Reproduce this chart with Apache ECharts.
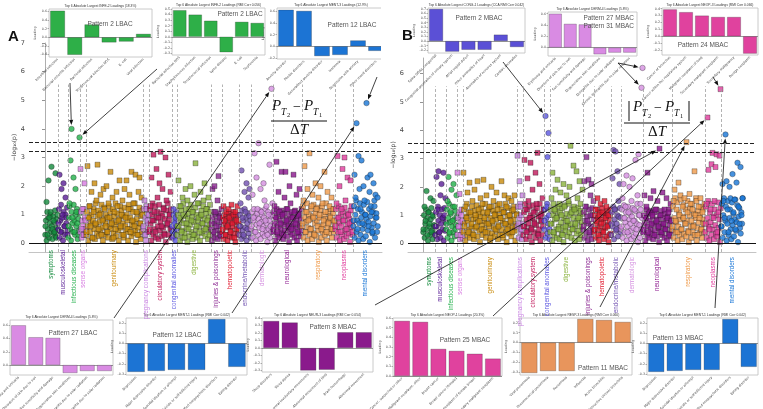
<!DOCTYPE html>
<html>
<head>
<meta charset="utf-8">
<script src="https://cdn.jsdelivr.net/npm/echarts@6/dist/echarts.min.js"></script>
<style>
html,body{margin:0;padding:0;background:#fff}
#main{width:763px;height:409px}
</style>
</head>
<body>
<div id="main"></div>
<script>
// phecode categories, same order in both panels
var categories = ['symptoms','musculoskeletal','infectious diseases','sense organs','genitourinary','pregnancy complications','circulatory system','congenital anomalies','digestive','injuries & poisonings','hematopoietic','endocrine/metabolic','dermatologic','neurological','respiratory','neoplasms','mental disorders']
var catColors = ['#138a3c','#5a1e96','#22b04a','#d679e0','#c88a0a','#c67fe0','#c0185a','#5a55e0','#8ab23c','#8a2590','#e0182e','#7050b0','#d48fe0','#8a158c','#ef9a4a','#e03c9c','#1875d6']
var catSymbols = ['circle','circle','circle','rect','rect','rect','rect','circle','rect','rect','rect','circle','circle','rect','rect','rect','circle']

// panel A  -log10(p): phenotypes that stand out (one per pixel column of the category)
var aSymptoms = [0.6,1.45,0.3,2.2,0.9,1.1,2.68,0.5,0.8,0.4,2.45,0.2,1.0]
var aMusculoskeletal = [0.7,2.4,0.4,1.9,1.0,2.1,0.6,1.6,0.9,0.3]
var aInfectious = [0.6,1.4,2.9,4.0,0.9,2.3,0.4,1.9,1.1,0.7,0.3,3.7]
var aSense = [2.6,0.5,1.2,0.3,2.1,0.8]
var aGenitourinary = [0.4,2.7,0.9,1.3,0.6,1.8,0.2,1.1,2.1,0.7,1.5,2.75,0.5,1.0,1.7,0.3,0.8,1.9,1.2,0.6,2.0,0.4,1.4,0.9,2.5,0.7,1.6,0.2,1.1,0.5,1.8,1.3,0.8,2.2,0.6,1.0,1.5,0.3,1.9,0.9,2.2,0.5,1.2,1.7,0.4,2.5,0.8,1.4,0.6,2.4,1.1,0.3,1.8,2.3,0.7,1.6,1.0]
var aPregnancy = [0.6,1.5,0.3,1.2,0.8,1.0]
var aCirculatory = [0.5,1.3,2.3,0.8,3.1,1.1,0.4,2.6,1.6,0.9,2.1,3.2,0.6,1.9,1.2,0.3,3.0,1.5,0.7,2.4,1.0,1.8,0.5]
var aCongenital = [0.4,1.2,0.7,0.9,0.3]
var aDigestive = [0.6,2.2,0.9,1.3,0.4,1.6,1.0,0.2,1.9,0.7,1.5,0.5,1.2,2.0,0.8,1.1,0.3,1.7,2.8,0.6,1.4,0.9,0.4,1.8,1.0,0.7,1.5,2.1,0.5,1.2,0.8,1.6,0.3,1.1]
var aInjuries = [0.7,1.9,0.4,2.0,1.1,0.6,1.5,2.35,0.9,0.3,1.2]
var aHematopoietic = [0.5,1.3,0.8,0.3,1.1,0.6,1.2,0.9,0.4,1.35,0.7,1.0,0.2,1.1,0.8,1.3,0.5]
var aEndocrine = [0.6,1.4,2.55,0.9,0.3,1.8,1.1,2.1,0.5,1.6,1.9,0.8]
var aDermatologic = [0.6,1.7,0.9,3.15,0.4,2.3,1.2,3.5,0.7,1.9,1.1,0.5,2.1,1.5,0.8,1.3,0.3,1.0,2.75,0.6,5.4,1.4]
var aNeurological = [0.5,1.3,0.9,2.85,0.4,1.8,1.1,0.7,2.5,1.0,0.3,1.6,2.5,0.8,1.2,0.6,2.0,1.4,0.5,0.9,2.4,1.1,0.7,1.7,0.4,1.0,1.9,0.6,1.2]
var aRespiratory = [0.7,1.5,2.7,0.4,1.1,1.9,0.8,3.15,0.5,1.3,1.7,0.9,0.3,2.1,1.2,0.6,1.6,1.0,2.0,0.5,1.4,0.8,2.5,1.1,0.4,1.8,0.7,1.3,0.9,1.6,0.5,1.2,0.8]
var aNeoplasms = [0.6,1.4,3.05,0.9,2.0,0.4,1.2,2.6,0.8,3.0,1.5,0.5,2.3,1.0,0.7,2.2,1.3,0.4]
var aMental = [0.8,2.4,1.6,4.2,0.5,3.05,1.9,1.2,2.9,0.7,2.0,1.5,1.0,4.9,2.3,0.6,1.8,2.4,1.1,0.4,2.1,1.3,1.7,0.9,1.6]

// panel A  -log10(p): the dense cloud of remaining phenotypes
var aSymptomsBase = [.3,.8,.1,1.1,.5,.9,.2,.7,1.0,.4,.6,.15,.95,.35,.75,1.15,.25,.55,.85,.45]
var aMusculoskeletalBase = [.5,1.2,.2,.8,1.35,.4,.9,.1,1.1,.6,.3,1.0,.7,1.25,.45]
var aInfectiousBase = [.2,.9,1.3,.5,.1,1.1,.7,.4,1.35,.8,.3,1.0,.6,1.2,.15,.85,.45,1.05]
var aSenseBase = [.4,1.1,.2,.8,.6,1.2,.3,.9,.5]
var aGenitourinaryBase = [.3,1.1,.6,.1,.9,1.3,.4,.7,1.0,.2,.8,1.2,.5,.15,1.4,.65,.35,.95,1.15,.25,.75,.45,1.05,1.35,.55,.1,.85,1.25,.3,.7,1.0,.4,.9,.2,1.3,.6,1.1,.5,.8,.15,1.2,.35,.95,.65,1.4,.25,.75,1.05,.45,.1,.85,1.3,.55,1.15,.3,.7,.95,.2,1.25,.6,.4,1.0,.8,.1,1.35,.5,.9,1.2,.25,.65,1.1,.35,.75,1.4,.45,.05,.85,1.05,.55,.3,1.25,.7,.15,.95,.4,1.15]
var aPregnancyBase = [.5,1.2,.3,.9,.1,1.3,.7,.4,1.0]
var aCirculatoryBase = [.4,1.2,.7,.1,1.0,1.4,.3,.8,.5,1.3,.2,.9,1.1,.6,.15,1.35,.45,.75,1.05,.25,.95,.55,1.25,.35,.85,.05,1.15,.65,1.4,.3,.8,1.0,.5,1.2,.2]
var aCongenitalBase = [.6,.2,1.0,.4,.8,.1,1.1,.5]
var aDigestiveBase = [.3,1.0,.6,1.3,.1,.8,1.15,.45,.2,1.4,.7,.35,.95,1.2,.55,.05,.85,1.05,.25,.65,1.35,.4,.9,.15,1.1,.75,.3,1.25,.5,1.0,.2,.8,1.4,.6,.1,.95,1.15,.35,.7,1.3,.45,.85,.25,1.05,.55,1.2,.15,.9,.65,1.35,.4]
var aInjuriesBase = [.5,.1,.9,.3,1.1,.7,.2,1.0,.45,.8,.15,1.05,.6,.35,.95,.25,.75]
var aHematopoieticBase = [.4,.9,.15,.7,1.0,.3,.55,.85,.1,.65,1.05,.25,.8,.45,.95,.2,.6,1.1,.35,.75,.05,.9,.5,1.0,.3,.7]
var aEndocrineBase = [.3,1.0,.6,.15,1.15,.45,.8,.25,1.2,.55,.9,.1,.7,1.05,.35,.95,.5,.2]
var aDermatologicBase = [.5,1.1,.2,.8,1.2,.4,.95,.1,.65,1.05,.3,.85,.55,1.15,.15,.75,1.0,.35,.6,.9,.25,1.2,.45,.7,.05,1.1,.5,.8,.2,.95,.4,1.0,.6]
var aNeurologicalBase = [.4,1.1,.7,.1,.9,1.2,.3,.6,1.0,.2,.8,.5,1.15,.35,.95,.15,.65,1.05,.45,.75,1.2,.25,.85,.55,.05,1.0,.4,.7,1.1,.3,.9,.6,.2,1.15,.5,.8,.1,.95,.35,1.05,.65,.25,.85,.45]
var aRespiratoryBase = [.6,1.3,.2,.9,1.1,.4,.75,1.4,.1,.55,1.0,.3,.85,1.2,.5,.15,.95,1.35,.35,.7,1.05,.25,.8,1.25,.45,.05,.9,1.15,.6,.2,1.3,.4,.65,1.0,.3,.85,1.4,.1,.55,1.1,.75,.35,.95,1.2,.5,.2,.8,1.05,.4,.7]
var aNeoplasmsBase = [.5,1.2,.2,.9,.4,1.3,.7,.1,1.0,.6,.3,1.1,.8,.15,1.25,.45,.95,.25,.65,1.05,.35,.85,.05,1.15,.55,.75,.3]
var aMentalBase = [.6,1.3,.2,1.0,1.5,.4,.8,1.2,.1,.7,1.4,.3,.9,1.1,.5,.15,1.35,.65,1.0,.25,.85,1.45,.45,.75,1.2,.05,.95,1.3,.55,.35,1.1,.7,1.5,.2,.9,1.05,.4,.6]

// panel B  -log10(p): phenotypes that stand out
var bSymptoms = [0.5,1.3,0.8,1.85,0.3,1.1,0.7,1.6,0.4,1.0,1.5,0.6]
var bMusculoskeletal = [0.6,2.35,1.2,2.55,0.4,1.7,2.1,0.9,2.5,1.0,1.6]
var bInfectious = [0.7,1.5,2.35,0.4,1.1,1.9,0.8,2.1,1.3,0.5,1.7]
var bSense = [2.5,0.6,1.75,0.3,1.2,0.8]
var bGenitourinary = [2.5,0.6,1.3,0.9,1.8,0.4,2.15,1.1,0.7,1.5,0.3,1.9,1.0,0.6,2.2,1.2,0.8,1.6,0.5,1.4,2.25,0.9,0.4,1.7,1.1,0.7,1.3,0.2,2.0,0.8,1.5,1.0,0.5,1.8,1.2,0.6,1.4,0.9,2.2,0.3,1.1,1.7,0.7,1.3,0.5,1.6,1.0,0.8,1.5,0.4,1.2,1.7,0.6,1.0]
var bPregnancy = [3.1,0.7,2.2,1.3,0.5,1.7]
var bCirculatory = [0.6,2.95,1.2,0.4,2.3,1.5,0.9,2.85,0.5,1.9,1.1,0.7,2.5,1.4,3.2,0.3,2.1,1.0,0.8,1.6,1.2]
var bCongenital = [0.8,4.5,1.3,3.05,3.9,0.5]
var bDigestive = [0.7,1.6,2.5,0.4,1.2,1.9,0.9,2.25,0.5,1.4,1.8,1.0,0.3,2.1,1.3,0.6,1.7,0.8,1.5,2.0,3.45,1.1,0.5,2.75,1.2,0.7,2.55,1.6,0.9,2.2,1.4,0.6,1.9]
var bInjuries = [0.6,2.2,1.3,3.05,0.8,2.25,0.4,1.7,2.1,1.0,1.5]
var bHematopoietic = [0.5,1.2,0.8,1.6,0.3,1.0,1.4,0.7,1.1,0.4,1.5,0.9,1.3,0.6,1.0,0.3,1.2]
var bEndocrine = [0.7,2.3,3.3,1.2,3.25,0.5,2.55,1.5,2.1,0.9]
var bDermatologic = [0.6,1.6,2.1,0.9,1.3,2.4,0.4,1.1,2.0,0.7,1.5,2.3,0.8,1.2,2.95,0.5,1.7,3.15,1.0,1.4,5.5,6.2]
var bNeurological = [0.5,1.7,0.9,1.3,2.5,0.4,1.1,1.6,0.7,1.0,1.85,0.3,1.2,0.8,1.5,0.6,3.35,1.0,0.4,1.8,0.7,1.2,0.5,1.6,0.9,1.1,0.3,1.4,0.8]
var bRespiratory = [0.6,1.5,1.9,0.8,1.2,0.4,2.15,1.0,1.7,0.5,1.3,0.9,1.6,0.7,3.58,1.1,0.4,1.75,1.4,0.8,1.2,0.6,2.55,1.0,1.5,0.3,1.3,0.9,1.6,0.5,1.1,0.7,1.4]
var bNeoplasms = [0.7,1.4,4.45,2.6,0.5,1.2,2.8,3.2,0.9,1.5,2.7,3.15,0.4,1.1,3.1,5.45]
var bMental = [0.6,2.1,1.5,0.9,3.85,2.2,1.2,0.4,2.0,1.6,0.8,2.45,1.1,1.55,0.5,2.15,2.85,1.3,0.7,2.7,1.0,1.6]

// panel B  -log10(p): dense cloud
var bSymptomsBase = [.4,1.0,.2,.7,1.2,.5,.9,.1,1.1,.6,.3,.85,1.25,.45,.15,.95,.65,.35]
var bMusculoskeletalBase = [.3,1.1,.6,.15,1.3,.8,.4,1.0,.2,.7,1.2,.5,.9,.1,1.25,.45,.75]
var bInfectiousBase = [.5,1.2,.2,.9,1.4,.35,.75,1.05,.1,.6,1.3,.4,.85,.25,1.15,.65,.95]
var bSenseBase = [.3,.9,.6,1.1,.15,.75,1.0,.45,.2]
var bGenitourinaryBase = [.4,1.2,.7,.1,.95,1.4,.3,.8,1.1,.5,.2,1.0,.6,1.3,.35,.85,.15,1.15,.55,.9,1.35,.25,.75,1.05,.45,.05,.95,1.25,.65,.3,1.1,.5,.8,1.4,.2,.7,1.0,.4,1.2,.6,.1,.9,1.3,.35,.75,1.15,.55,.25,1.05,.85,.45,1.35,.15,.65,1.0,.3,.9,1.2,.5,.8,.2,1.1,.7,1.4,.4,.05,.95,1.25,.6,.35,1.0,.75,.25,1.15,.55,.85,1.3,.45,.1,.65,1.05]
var bPregnancyBase = [.6,1.3,.2,.9,1.4,.4,1.0,.15,.7]
var bCirculatoryBase = [.3,1.1,.6,1.4,.15,.85,1.2,.45,.7,1.3,.25,1.0,.55,.05,.9,1.35,.4,.75,1.15,.2,.65,1.25,.35,.95,.5,1.4,.1,.8,1.05,.3,.6,1.2]
var bCongenitalBase = [.5,1.2,.2,.9,1.4,.35,.7,1.0,.15]
var bDigestiveBase = [.4,1.2,.7,.1,1.0,1.4,.3,.85,1.15,.5,.2,.95,1.3,.6,.15,1.1,.75,.35,1.25,.55,.05,.9,1.35,.45,.8,1.05,.25,.65,1.4,.4,1.0,.7,.2,1.2,.5,.9,1.3,.1,.6,1.1,.35,.8,1.25,.45,.15,.95,1.15,.3,.75,1.05]
var bInjuriesBase = [.5,1.1,.2,.8,1.3,.4,.95,.1,.7,1.2,.3,1.0,.6,.15,1.25,.45,.85]
var bHematopoieticBase = [.4,1.0,.2,.7,1.2,.5,.9,.1,1.1,.6,.3,.85,1.25,.45,.75,.15,1.05,.55,.95,.25,1.15,.65,.05,.8,1.0,.35]
var bEndocrineBase = [.3,1.1,.6,1.3,.15,.85,1.2,.45,.7,1.0,.25,.95,.55,1.25,.4]
var bDermatologicBase = [.5,1.2,.2,.9,1.35,.4,.75,1.1,.1,.6,1.3,.3,.85,1.05,.45,.15,.95,1.25,.55,.25,.8,1.15,.35,.7,1.4,.05,1.0,.65,.2,1.2,.5,.9,.4]
var bNeurologicalBase = [.4,1.0,.7,.1,.9,1.2,.3,.6,1.05,.2,.8,.5,1.15,.35,.95,.15,.65,1.1,.45,.75,1.2,.25,.85,.55,.05,1.0,.4,.7,1.15,.3,.9,.6,.2,1.05,.5,.8,.1,.95,.35,1.2,.65,.25,.85,.45]
var bRespiratoryBase = [.5,1.3,.2,.9,1.6,.4,.75,1.45,.1,.6,1.1,.3,.85,1.55,.5,.15,.95,1.35,.35,.7,1.2,.25,.8,1.5,.45,.05,1.0,1.25,.6,.2,1.4,.4,.65,1.05,.3,.9,1.6,.1,.55,1.15,.75,.35,1.0,1.3,.5,.2,.85,1.2,.4,.7]
var bNeoplasmsBase = [.4,1.3,.2,.9,1.5,.6,.1,1.1,.75,.3,1.4,.5,.95,.15,1.2,.65,.35,1.0,.25,1.45,.55,.85,.05,1.25]
var bMentalBase = [.6,1.4,.2,1.0,1.6,.4,.8,1.3,.1,.7,1.5,.3,.9,1.2,.5,.15,1.45,.65,1.05,.25,.85,1.55,.45,.75,1.35,.05,.95,1.25,.55,.35,1.1,.7,1.6]

var thresholds = [3.53, 3.23]

// inset loadings
var infe2Share = [0.62,-0.41,0.3,-0.12,-0.1,0.08]
var infe2ShareLabels = ['Intestinal infection','Bacterial enteritis infection','Bacterial infection','Streptococcal infection NOS','E. coli','Viral infection']
var infe2Rmi = [0.48,0.40,0.29,-0.28,0.27,0.25]
var infe2RmiLabels = ['Bacterial infection NOS','Staphylococcus infection','Streptococcal infection','Lyme disease','E. coli','Septicemia']
var ment3Share = [0.63,0.61,-0.17,-0.15,0.1,-0.08]
var ment3Labels = ['Anxiety disorder','Phobic disorders','Generalized anxiety disorder','Insomnia','Depression with anxiety','Other mood disorders']
var cong1Cca = [0.70,-0.23,-0.19,-0.19,0.14,-0.13]
var cong1Labels = ['Spina bifida, congenital','Congenital anomalies of urinary system','Atrial septal defect','Other anomalies of heart','Anomalies of nervous system','Cardiac anomalies']
var derm4Share = [0.6,0.42,0.41,-0.12,-0.09,-0.09]
var derm4Labels = ['Erythema and urticaria','Disorders of skin due to sun','Sun sensitivity and damage','Degenerative skin conditions','Dermatitis due to solar radiation','Chronic dermatitis due to solar radiation']
var neop3Rmi = [0.39,0.35,0.30,0.28,0.28,-0.25]
var neop3Labels = ['Cancer of bronchus','Cancer within the respiratory system','Malignant neoplasm of lung','Secondary malignant neoplasm','Secondary malignancy','Benign neoplasm']
var ment1Rmi = [-0.28,-0.27,-0.26,-0.26,0.24,-0.23]
var ment1Labels = ['Depression','Major depressive disorder','Suicidal ideation or attempt','Suicide or self-inflicted injury','Other specified nonpsychotic disorders','Eating disorder']
var neur3Rmi = [0.36,0.34,-0.30,-0.29,0.21,0.21]
var neur3Labels = ['Sleep disorders','Sleep apnea','Abnormal involuntary movements','Abnormal movement of limb','Brain hemorrhage','Abnormal movement']
var neop1Share = [0.57,0.56,0.28,0.26,0.23,0.18]
var neop1Labels = ['Cancer, suspected or other','Malignant neoplasm, other','Breast cancer','Breast cancer [female]','Malignant neoplasm of female breast','Secondary malignant neoplasm']
var resp3Rmi = [-0.31,-0.29,-0.29,0.24,0.23,0.21]
var resp3Labels = ['Viral pneumonia','Pneumococcal pneumonia','Pneumonia','Influenza','Acute bronchitis','Obstructive chronic bronchitis']

var green = '#2eaf48', blue = '#1c74d4', slate = '#5b50d6', orchid = '#d98be3', pink = '#e0429e', plum = '#8a1a8c', sand = '#e8955c'

var panels = [
  {values:[aSymptoms,aMusculoskeletal,aInfectious,aSense,aGenitourinary,aPregnancy,aCirculatory,aCongenital,aDigestive,aInjuries,aHematopoietic,aEndocrine,aDermatologic,aNeurological,aRespiratory,aNeoplasms,aMental],
   base:[aSymptomsBase,aMusculoskeletalBase,aInfectiousBase,aSenseBase,aGenitourinaryBase,aPregnancyBase,aCirculatoryBase,aCongenitalBase,aDigestiveBase,aInjuriesBase,aHematopoieticBase,aEndocrineBase,aDermatologicBase,aNeurologicalBase,aRespiratoryBase,aNeoplasmsBase,aMentalBase],
   box:[29,43,353,209], xMin:-16, xMax:337, yMax:7, yTicks:[0,1,2,3,4,5,6,7], labelGap:-2},
  {values:[bSymptoms,bMusculoskeletal,bInfectious,bSense,bGenitourinary,bPregnancy,bCirculatory,bCongenital,bDigestive,bInjuries,bHematopoietic,bEndocrine,bDermatologic,bNeurological,bRespiratory,bNeoplasms,bMental],
   base:[bSymptomsBase,bMusculoskeletalBase,bInfectiousBase,bSenseBase,bGenitourinaryBase,bPregnancyBase,bCirculatoryBase,bCongenitalBase,bDigestiveBase,bInjuriesBase,bHematopoieticBase,bEndocrineBase,bDermatologicBase,bNeurologicalBase,bRespiratoryBase,bNeoplasmsBase,bMentalBase],
   box:[408,58,348,194], xMin:-15, xMax:333, yMax:6.55, yTicks:[0,1,2,3,4,5,6], labelGap:5}
]

var insets = [
  {box:[49,9,103,48], values:infe2Share, labels:infe2ShareLabels, ticks:[-0.4,-0.2,0,0.2,0.4,0.6], min:-0.46, max:0.66, color:green,
   title:'Top 6 Absolute Largest INFE-2 Loadings (18.3%)', tags:['Pattern 2 LBAC'], tagAt:[110,24,'center']},
  {box:[172,8,93,47], values:infe2Rmi, labels:infe2RmiLabels, ticks:[-0.3,-0.2,-0.1,0,0.1,0.2,0.3,0.4,0.5], min:-0.33, max:0.52, color:green,
   title:'Top 6 Absolute Largest INFE-2 Loadings (RMI Corr 0.056)', tags:['Pattern 2 LBAC'], tagAt:[240,14,'center']},
  {box:[277,8,108,51], values:ment3Share, labels:ment3Labels, ticks:[-0.2,0,0.2,0.4,0.6], min:-0.22, max:0.66, color:blue,
   title:'Top 6 Absolute Largest MENT-3 Loadings (12.9%)', tags:['Pattern 12 LBAC'], tagAt:[352,25,'center']},
  {box:[428,8,97,45], values:cong1Cca, labels:cong1Labels, ticks:[-0.2,-0.1,0,0.1,0.2,0.3,0.4,0.5,0.6,0.7], min:-0.26, max:0.72, color:slate,
   title:'Top 6 Absolute Largest CONG-1 Loadings (CCA RMI Corr 0.042)', tags:['Pattern 2 MBAC'], tagAt:[479,18,'center']},
  {box:[548,12,89,44], values:derm4Share, labels:derm4Labels, ticks:[0,0.2,0.4,0.6], min:-0.15, max:0.63, color:orchid,
   title:'Top 6 Absolute Largest DERM-4 Loadings (5.8%)', tags:['Pattern 27 MBAC','Pattern 31 MBAC'], tagAt:[634,18,'right']},
  {box:[662,8,96,47], values:neop3Rmi, labels:neop3Labels, ticks:[-0.2,-0.1,0,0.1,0.2,0.3,0.4], min:-0.27, max:0.41, color:pink,
   title:'Top 6 Absolute Largest NEOP-3 Loadings (RMI Corr 0.066)', tags:['Pattern 24 MBAC'], tagAt:[703,45,'center']},
  {box:[10,320,103,55], values:derm4Share, labels:derm4Labels, ticks:[0,0.2,0.4,0.6], min:-0.15, max:0.68, color:orchid,
   title:'Top 6 Absolute Largest DERM-4 Loadings (5.8%)', tags:['Pattern 27 LBAC'], tagAt:[73,333,'center']},
  {box:[126,318,121,57], values:ment1Rmi, labels:ment1Labels, ticks:[-0.3,-0.2,-0.1,0,0.1,0.2], min:-0.31, max:0.25, color:blue,
   title:'Top 6 Absolute Largest MENT-1 Loadings (RMI Corr 0.042)', tags:['Pattern 12 LBAC'], tagAt:[177,335,'center']},
  {box:[262,318,111,54], values:neur3Rmi, labels:neur3Labels, ticks:[-0.3,-0.2,-0.1,0,0.1,0.2,0.3,0.4], min:-0.32, max:0.4, color:plum,
   title:'Top 6 Absolute Largest NEUR-3 Loadings (RMI Corr 0.054)', tags:['Pattern 8 MBAC'], tagAt:[333,327,'center']},
  {box:[393,318,109,58], values:neop1Share, labels:neop1Labels, ticks:[0,0.1,0.2,0.3,0.4,0.5,0.6], min:0, max:0.6, color:pink,
   title:'Top 6 Absolute Largest NEOP-1 Loadings (20.3%)', tags:['Pattern 25 MBAC'], tagAt:[465,340,'center']},
  {box:[520,318,112,57], values:resp3Rmi, labels:resp3Labels, ticks:[-0.3,-0.2,-0.1,0,0.1,0.2], min:-0.33, max:0.25, color:sand,
   title:'Top 6 Absolute Largest RESP-3 Loadings (RMI Corr 0.060)', tags:['Pattern 11 MBAC'], tagAt:[603,368,'center']},
  {box:[647,318,111,57], values:ment1Rmi, labels:ment1Labels, ticks:[-0.3,-0.2,-0.1,0,0.1,0.2], min:-0.31, max:0.25, color:blue,
   title:'Top 6 Absolute Largest MENT-1 Loadings (RMI Corr 0.042)', tags:['Pattern 13 MBAC'], tagAt:[678,338,'center']}
]

// arrows: from an inset to a highlighted phenotype (panel, category, index in category)
var arrowLinks = [
  {from:[70,83], panel:0, cat:2, idx:3},
  {from:[157,69], panel:0, cat:2, idx:11},
  {from:[377,77], panel:0, cat:16, idx:13},
  {from:[114,318], panel:0, cat:12, idx:20},
  {from:[232,313], panel:0, cat:16, idx:3},
  {from:[375,305], panel:1, cat:13, idx:16},
  {from:[503,62], panel:1, cat:7, idx:1},
  {from:[618,63], panel:1, cat:12, idx:21},
  {from:[618,63], panel:1, cat:12, idx:20},
  {from:[713,77], panel:1, cat:15, idx:15},
  {from:[493,316], panel:1, cat:15, idx:2},
  {from:[600,307], panel:1, cat:14, idx:14},
  {from:[715,308], panel:1, cat:16, idx:4}
]

var chart = echarts.init(document.getElementById('main'))
var grids = [], xAxes = [], yAxes = [], series = []

panels.forEach(function (p, pi) {
  var starts = [], acc = 0
  p.values.forEach(function (v) { starts.push(acc); acc += v.length })
  p.starts = starts
  grids.push({left:p.box[0], top:p.box[1], width:p.box[2], height:p.box[3], outerBoundsMode:'none'})
  xAxes.push({type:'value', gridIndex:pi, min:p.xMin, max:p.xMax,
    axisLine:{show:true, onZero:false, lineStyle:{color:'#b5b5b5', width:0.8}},
    axisTick:{show:false}, axisLabel:{show:false}, splitLine:{show:false}})
  yAxes.push({type:'value', gridIndex:pi, min:-0.3, max:p.yMax,
    axisLine:{show:true, lineStyle:{color:'#999', width:0.8}},
    axisTick:{show:true, length:3, customValues:p.yTicks, lineStyle:{color:'#777', width:0.8}},
    axisLabel:{fontSize:6.5, color:'#444', margin:4, fontFamily:'DejaVu Sans', customValues:p.yTicks},
    splitLine:{show:false},
    name:'−log₁₀(p)', nameLocation:'middle', nameGap:12, nameRotate:90,
    nameTextStyle:{fontSize:6, color:'#333', fontFamily:'DejaVu Sans'}})
  var guides = starts.slice(1).map(function (s) {
    return [{coord:[s, -0.3], lineStyle:{color:'#a0a0a0', type:[3,2], width:0.8}}, {coord:[s, 5.55]}]
  })
  thresholds.forEach(function (t) {
    guides.push({yAxis:t, lineStyle:{color:'#222', type:[4,2], width:1}})
  })
  guides.push({yAxis:0, lineStyle:{color:'#111', type:'solid', width:1.1}})
  series.push({type:'scatter', xAxisIndex:pi, yAxisIndex:pi, data:[], z:1, silent:true,
    markLine:{silent:true, symbol:'none', animation:false, label:{show:false}, data:guides}})
  p.values.forEach(function (vals, ci) {
    var w = vals.length, base = p.base[ci]
    var pts = base.map(function (v, j) { return [starts[ci] + (j + 0.5) * w / base.length, v] })
    vals.forEach(function (v, i) { pts.push([starts[ci] + i + 0.5, v]) })
    series.push({type:'scatter', xAxisIndex:pi, yAxisIndex:pi, z:3, silent:true,
      symbol:catSymbols[ci], symbolSize:catSymbols[ci] === 'rect' ? 5 : 5.5,
      itemStyle:{color:catColors[ci], borderColor:'rgba(25,25,25,0.8)', borderWidth:0.5},
      data:pts})
  })
})

var graphics = []
function txt(str, x, y, o) {
  o = o || {}
  graphics.push({type:'text', x:x, y:y, rotation:o.rot || 0, z:60,
    style:{text:str, fill:o.color || '#111', fontSize:o.size || 8, fontFamily:o.family || 'Liberation Sans',
      fontStyle:o.italic ? 'italic' : 'normal', fontWeight:o.bold ? 'bold' : 'normal',
      align:o.align || 'left', verticalAlign:o.va || 'top', textAlign:o.align || 'left', textVerticalAlign:o.va || 'top'}})
}

insets.forEach(function (c) {
  var gi = grids.length
  grids.push({left:c.box[0], top:c.box[1], width:c.box[2], height:c.box[3], show:true, backgroundColor:'#fff',
    borderColor:'#bdbdbd', borderWidth:0.8, outerBoundsMode:'none'})
  xAxes.push({type:'category', gridIndex:gi, data:c.labels, axisLine:{show:false}, axisTick:{show:false},
    axisLabel:{interval:0, rotate:45, fontSize:3.3, color:'#444', margin:2}})
  yAxes.push({type:'value', gridIndex:gi, min:c.min, max:c.max, splitLine:{show:false}, axisLine:{show:false},
    axisTick:{show:true, length:1.5, customValues:c.ticks, lineStyle:{color:'#666', width:0.5}},
    axisLabel:{fontSize:3.3, color:'#444', margin:2, customValues:c.ticks, formatter:function (v) { return v.toFixed(1) }},
    name:'Loading', nameLocation:'middle', nameGap:10, nameTextStyle:{fontSize:3.3, color:'#444'}})
  series.push({type:'bar', xAxisIndex:gi, yAxisIndex:gi, data:c.values, barCategoryGap:'14%', z:5, silent:true,
    itemStyle:{color:c.color, borderColor:'rgba(40,40,40,0.5)', borderWidth:0.5},
    markLine:{silent:true, symbol:'none', animation:false, label:{show:false},
      lineStyle:{color:'#555', width:0.6, type:'solid'}, data:[{yAxis:0}]}})
  txt(c.title, c.box[0] + c.box[2] / 2, c.box[1] - 1, {size:3.3, color:'#333', align:'center', va:'bottom'})
  c.tags.forEach(function (t, k) {
    txt(t, c.tagAt[0], c.tagAt[1] + k * 8, {size:6.5, color:'#555', align:c.tagAt[2], va:'middle'})
  })
})

chart.setOption({
  animation:false,
  backgroundColor:'#fff',
  textStyle:{fontFamily:'DejaVu Sans'},
  grid:grids, xAxis:xAxes, yAxis:yAxes, series:series
})

// category names under each Manhattan panel
panels.forEach(function (p, pi) {
  var bottom = chart.convertToPixel({gridIndex:pi}, [0, -0.3])[1]
  p.values.forEach(function (vals, ci) {
    var px = chart.convertToPixel({gridIndex:pi}, [p.starts[ci] + vals.length / 2, 0])[0]
    txt(categories[ci], px, bottom + p.labelGap, {size:6.3, color:catColors[ci], align:'right', va:'middle', rot:Math.PI / 2})
  })
})

// arrows
arrowLinks.forEach(function (a) {
  var p = panels[a.panel]
  var v = p.values[a.cat][a.idx]
  var tgt = chart.convertToPixel({gridIndex:a.panel}, [p.starts[a.cat] + a.idx + 0.5, v])
  var dx = tgt[0] - a.from[0], dy = tgt[1] - a.from[1]
  var len = Math.sqrt(dx * dx + dy * dy), ux = dx / len, uy = dy / len
  var ex = tgt[0] - ux * 4, ey = tgt[1] - uy * 4
  var bx = ex - ux * 5, by = ey - uy * 5
  graphics.push({type:'line', z:70, shape:{x1:a.from[0], y1:a.from[1], x2:bx, y2:by}, style:{stroke:'#111', lineWidth:0.8}})
  graphics.push({type:'polygon', z:70, shape:{points:[[ex, ey], [bx - uy * 2, by + ux * 2], [bx + uy * 2, by - ux * 2]]}, style:{fill:'#111'}})
})

// rate-of-change formulas
function formula(x0, top, lineY, lineX1, lineX2, abs) {
  var serif = 'Liberation Serif'
  txt('P', x0, top, {size:15, italic:true, family:serif})
  txt('T', x0 + 9, top + 8, {size:9.5, italic:true, family:serif})
  txt('2', x0 + 15, top + 13, {size:6.5, family:serif})
  txt('−', x0 + 21, top + 1, {size:14, family:serif})
  txt('P', x0 + 32, top, {size:15, italic:true, family:serif})
  txt('T', x0 + 41, top + 8, {size:9.5, italic:true, family:serif})
  txt('1', x0 + 47, top + 13, {size:6.5, family:serif})
  graphics.push({type:'line', z:60, shape:{x1:lineX1, y1:lineY, x2:lineX2, y2:lineY}, style:{stroke:'#111', lineWidth:1}})
  graphics.push({type:'text', x:(lineX1 + lineX2) / 2, y:lineY + 2, z:60,
    style:{text:'{a|Δ}{b|T}', align:'center', verticalAlign:'top', textAlign:'center', textVerticalAlign:'top',
      rich:{a:{fontSize:15, fontFamily:serif, fill:'#111'}, b:{fontSize:15, fontFamily:serif, fontStyle:'italic', fill:'#111'}}}})
  if (abs) {
    graphics.push({type:'line', z:60, shape:{x1:x0 - 4, y1:top + 1, x2:x0 - 4, y2:lineY - 2}, style:{stroke:'#111', lineWidth:1}})
    graphics.push({type:'line', z:60, shape:{x1:x0 + 56, y1:top + 1, x2:x0 + 56, y2:lineY - 2}, style:{stroke:'#111', lineWidth:1}})
  }
}
formula(272, 99, 121, 271, 327, false)
formula(633, 100, 123, 624, 690, true)

// panel letters
txt('A', 8, 29, {size:15, bold:true})
txt('B', 402, 28, {size:15, bold:true})
// right edge of the MENT-3 inset is cut by panel B
graphics.unshift({type:'rect', z:55, shape:{x:381, y:0, width:14, height:80}, style:{fill:'#fff'}})

chart.setOption({graphic:{elements:graphics}})
</script>
</body>
</html>
